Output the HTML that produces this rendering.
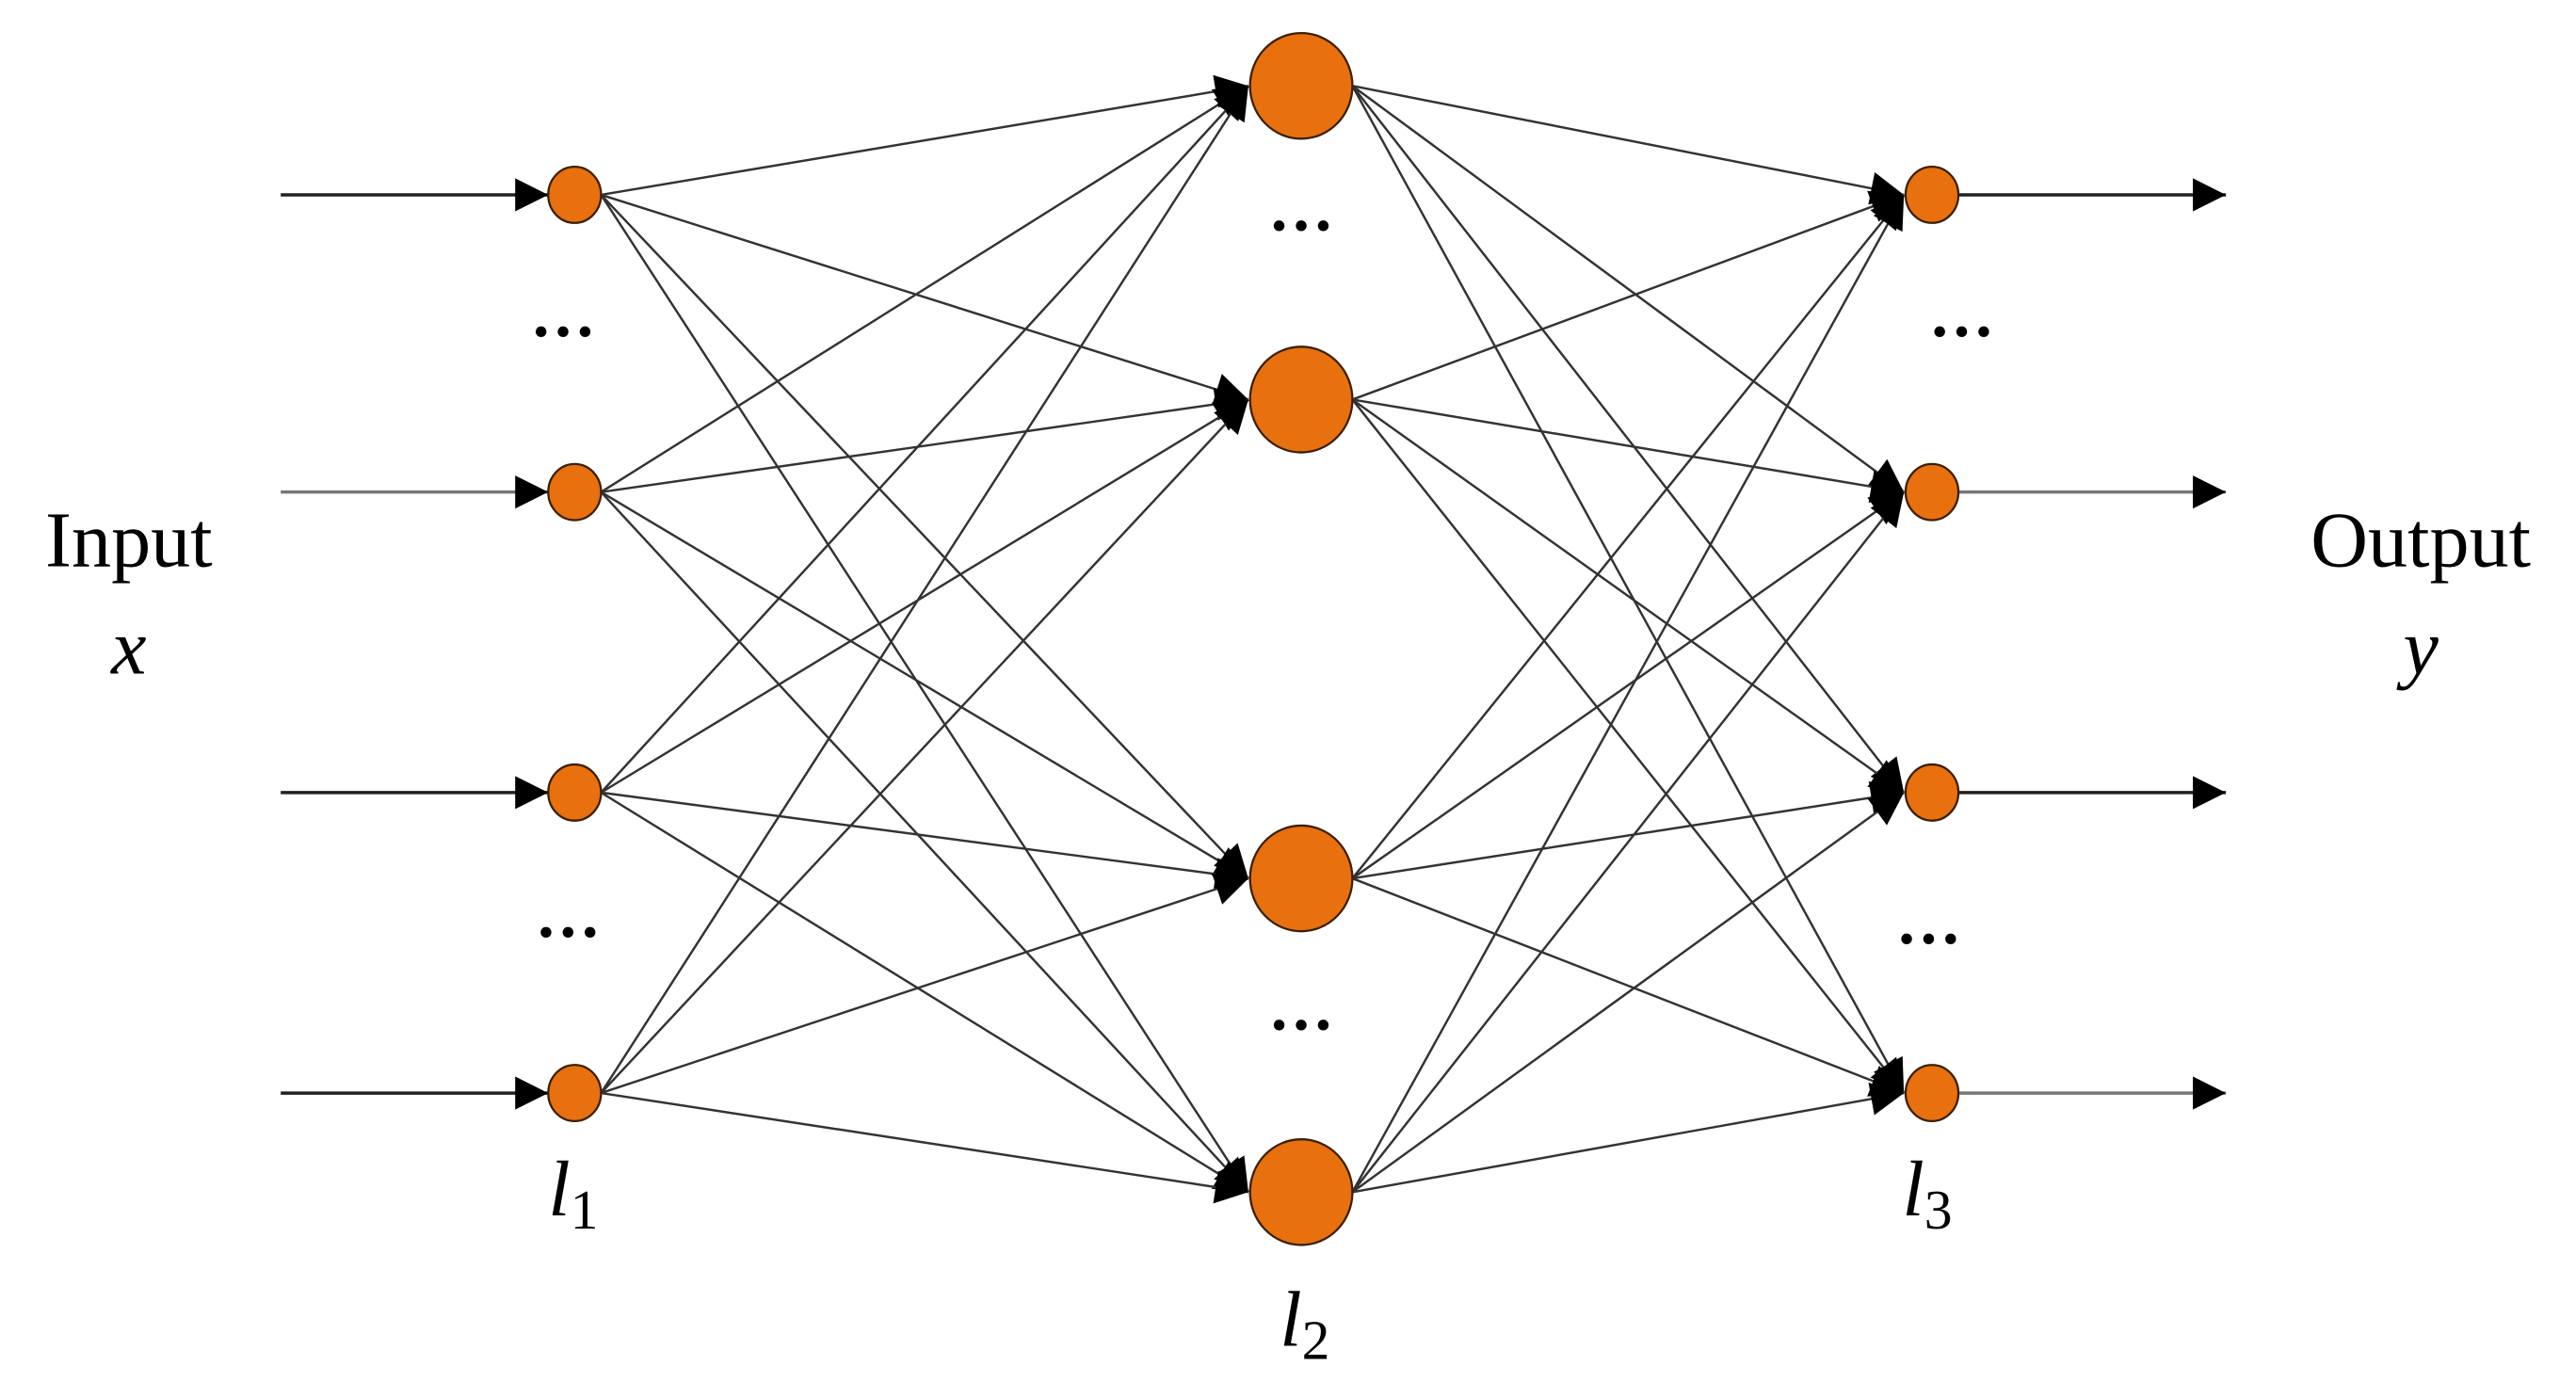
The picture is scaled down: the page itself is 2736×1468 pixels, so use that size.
<!DOCTYPE html>
<html><head><meta charset="utf-8"><style>
html,body{margin:0;padding:0;background:#fff;}
svg{display:block;}
text{font-family:"Liberation Serif",serif;fill:#000;}
</style></head><body>
<svg id="s" width="2736" height="1468" viewBox="0 0 1560 837" preserveAspectRatio="none" xmlns="http://www.w3.org/2000/svg">
<defs>
<marker id="a" markerUnits="userSpaceOnUse" markerWidth="24" markerHeight="24" viewBox="0 0 24 24" refX="22" refY="12" orient="auto">
<path d="M2,2 L22,12 L2,22 Z" fill="#000"/>
</marker>
</defs>
<g id="lines" stroke="#333" stroke-width="1.4" fill="none"></g>
<g id="io" stroke-width="2" fill="none"></g>
<g id="nodes"></g>
<g font-size="48">
<text x="78" y="343" text-anchor="middle">Input</text>
<text x="78" y="408" text-anchor="middle" font-style="italic">x</text>
<text x="1466" y="343" text-anchor="middle">Output</text>
<text x="1466" y="408" text-anchor="middle" font-style="italic">y</text>
<text x="332" y="736" font-style="italic">l<tspan font-size="34" dy="8" font-style="normal">1</tspan></text>
<text x="775" y="815" font-style="italic">l<tspan font-size="34" dy="8" font-style="normal">2</tspan></text>
<text x="1152" y="736" font-style="italic">l<tspan font-size="34" dy="8" font-style="normal">3</tspan></text>
</g>
<g font-size="40" font-weight="bold" text-anchor="middle">
<text x="341" y="214">···</text>
<text x="344" y="578">···</text>
<text x="788" y="150">···</text>
<text x="788" y="634">···</text>
<text x="1188" y="214">···</text>
<text x="1168" y="582">···</text>
</g>
</svg>
<script>
var NS="http://www.w3.org/2000/svg";
function el(p,n,a){var e=document.createElementNS(NS,n);for(var k in a)e.setAttribute(k,a[k]);document.getElementById(p).appendChild(e);return e;}
var L1=[118,298,480,662].map(function(y){return[348,y,16];});
var L2=[52,242,532,722].map(function(y){return[788,y,31];});
var L3=[118,298,480,662].map(function(y){return[1170,y,16];});
function conn(A,B){A.forEach(function(a){B.forEach(function(b){
 el("lines","line",{x1:a[0]+a[2],y1:a[1],x2:b[0]-b[2]-1,y2:b[1],"marker-end":"url(#a)"});
});});}
conn(L1,L2);conn(L2,L3);
L1.forEach(function(n,i){el("io","line",{x1:170,y1:n[1],x2:n[0]-n[2],y2:n[1],stroke:i==1?"#777":"#222","marker-end":"url(#a)"});});
L3.forEach(function(n,i){el("io","line",{x1:n[0]+n[2],y1:n[1],x2:1348,y2:n[1],stroke:(i==1||i==3)?"#777":"#222","marker-end":"url(#a)"});});
L1.concat(L2,L3).forEach(function(n){el("nodes","ellipse",{cx:n[0],cy:n[1],rx:n[2],ry:n[2]+1,fill:"#E8700E",stroke:"#3a2000","stroke-width":1.3});});
</script>
</body></html>
